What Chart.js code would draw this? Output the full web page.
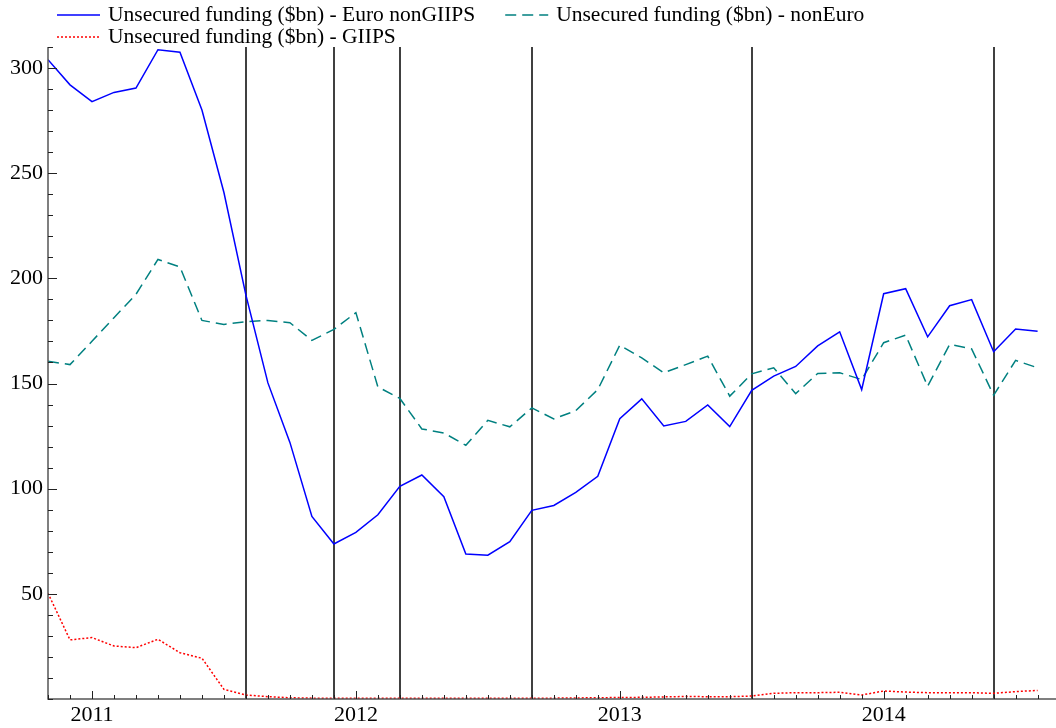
<!DOCTYPE html>
<html>
<head>
<meta charset="utf-8">
<script src="https://cdn.jsdelivr.net/npm/chart.js@4.4.1/dist/chart.umd.min.js"></script>
<style>
  html, body { margin: 0; padding: 0; background: #fff; }
  #wrap { width: 1056px; height: 728px; }
</style>
</head>
<body>
<div id="wrap"><canvas id="myChart" width="1056" height="728"></canvas></div>
<script>
// monthly observations, Nov 2010 .. Aug 2014
const months = [
  '2010-11','2010-12',
  '2011-01','2011-02','2011-03','2011-04','2011-05','2011-06','2011-07','2011-08','2011-09','2011-10','2011-11','2011-12',
  '2012-01','2012-02','2012-03','2012-04','2012-05','2012-06','2012-07','2012-08','2012-09','2012-10','2012-11','2012-12',
  '2013-01','2013-02','2013-03','2013-04','2013-05','2013-06','2013-07','2013-08','2013-09','2013-10','2013-11','2013-12',
  '2014-01','2014-02','2014-03','2014-04','2014-05','2014-06','2014-07','2014-08'
];

const euroNonGiips = [304, 292, 284, 288.4, 290.5, 308.7, 307.5, 280, 240.8, 192, 150.3, 122, 86.8, 73.7, 79.2, 87.6,
  101.1, 106.5, 96.2, 68.9, 68.4, 74.8, 89.7, 92, 98.2, 105.9, 133.3, 142.7, 129.8, 132, 139.8, 129.5, 146.8, 153.5,
  158.1, 167.9, 174.6, 147.1, 192.7, 195.1, 172.2, 187, 189.9, 165.1, 175.9, 174.9];

const nonEuro = [160.6, 159, 170.1, 181.3, 192.4, 209, 205.4, 180, 178.1, 179.4, 180, 178.9, 170.5, 175.7, 183.7, 148.4,
  142.9, 128.4, 126.5, 120.6, 132.5, 129.4, 138.4, 133.2, 137.1, 147.1, 168.2, 162.2, 155.1, 159, 163, 144, 154.6, 157.5,
  145.2, 154.8, 155.1, 151.9, 169.4, 173, 148.7, 168.6, 166.5, 144.4, 161, 157.5];

const giips = [50.3, 28.1, 29.2, 25.2, 24.4, 28.4, 22, 19.4, 4.6, 1.9, 1.1, 0.6, 0.4, 0.4, 0.3, 0.3, 0.3, 0.3, 0.3, 0.3,
  0.3, 0.3, 0.3, 0.4, 0.5, 0.6, 0.7, 0.8, 1.0, 1.2, 1.1, 1.1, 1.4, 2.7, 3, 3, 3.2, 1.9, 3.8, 3.3, 3, 3, 3, 2.7, 3.5, 4.1];

// months marked with a vertical line
const eventMonths = ['2011-08', '2011-12', '2012-03', '2012-09', '2013-07', '2014-06'];

const yLabelTicks = [50, 100, 150, 200, 250, 300];

const serif = "'Liberation Serif', 'Times New Roman', serif";

function toPoints(values) {
  return values.map((v, i) => ({ x: i, y: v }));
}

// black vertical lines, inward tick marks and the legend
const extras = {
  id: 'extras',
  beforeDatasetsDraw(chart) {
    const ctx = chart.ctx;
    const area = chart.chartArea;
    const xs = chart.scales.x;
    ctx.save();
    ctx.strokeStyle = '#000';
    ctx.lineWidth = 1.5;
    eventMonths.forEach(m => {
      const px = Math.round(xs.getPixelForValue(months.indexOf(m)));
      ctx.beginPath();
      ctx.moveTo(px, area.top);
      ctx.lineTo(px, area.bottom);
      ctx.stroke();
    });
    ctx.restore();
  },
  afterDraw(chart) {
    const ctx = chart.ctx;
    const area = chart.chartArea;
    const xs = chart.scales.x;
    const ys = chart.scales.y;
    ctx.save();
    // axis lines
    ctx.strokeStyle = '#555';
    ctx.lineWidth = 1.5;
    ctx.beginPath();
    ctx.moveTo(area.left, area.top);
    ctx.lineTo(area.left, area.bottom);
    ctx.lineTo(1056, area.bottom);
    ctx.stroke();
    // ticks pointing inward
    ctx.strokeStyle = '#222';
    ctx.lineWidth = 1;
    ys.ticks.forEach(t => {
      const py = Math.round(ys.getPixelForValue(t.value)) + 0.5;
      const len = yLabelTicks.includes(t.value) ? 9 : 5;
      ctx.beginPath();
      ctx.moveTo(area.left, py);
      ctx.lineTo(area.left + len, py);
      ctx.stroke();
    });
    months.forEach((m, i) => {
      const px = Math.round(xs.getPixelForValue(i)) + 0.5;
      const len = m.endsWith('-01') ? 8 : 4;
      ctx.beginPath();
      ctx.moveTo(px, area.bottom);
      ctx.lineTo(px, area.bottom - len);
      ctx.stroke();
    });
    // legend
    ctx.font = '21.5px ' + serif;
    ctx.textBaseline = 'middle';
    ctx.textAlign = 'left';
    const ds = chart.data.datasets;
    const rows = [[0, 1], [2]];
    const rowY = [15, 37];
    rows.forEach((row, r) => {
      let x = 57;
      row.forEach(k => {
        const d = ds[k];
        ctx.strokeStyle = d.borderColor;
        ctx.lineWidth = d.borderWidth;
        ctx.setLineDash(d.borderDash || []);
        ctx.beginPath();
        ctx.moveTo(x, rowY[r]);
        ctx.lineTo(x + 43, rowY[r]);
        ctx.stroke();
        ctx.setLineDash([]);
        ctx.fillStyle = '#000';
        ctx.fillText(d.label, x + 51, rowY[r]);
        x += 51 + ctx.measureText(d.label).width + 30;
      });
    });
    ctx.restore();
  }
};

const chart = new Chart(document.getElementById('myChart'), {
  type: 'line',
  data: {
    datasets: [
      {
        label: 'Unsecured funding ($bn) - Euro nonGIIPS',
        data: toPoints(euroNonGiips),
        borderColor: '#0000ff',
        borderWidth: 1.5
      },
      {
        label: 'Unsecured funding ($bn) - nonEuro',
        data: toPoints(nonEuro),
        borderColor: '#008080',
        borderWidth: 1.5,
        borderDash: [11, 6]
      },
      {
        label: 'Unsecured funding ($bn) - GIIPS',
        data: toPoints(giips),
        borderColor: '#ff0000',
        borderWidth: 1.5,
        borderDash: [2, 2]
      }
    ]
  },
  options: {
    responsive: false,
    animation: false,
    events: [],
    layout: { padding: { top: 47, right: 0, left: 0, bottom: 0 } },
    elements: {
      point: { radius: 0 },
      line: { tension: 0, fill: false }
    },
    plugins: {
      legend: { display: false },
      tooltip: { enabled: false }
    },
    scales: {
      x: {
        type: 'linear',
        min: 0,
        max: 45.7,
        grid: { display: false, drawTicks: false },
        border: { display: false },
        afterFit(scale) { scale.height = 29; },
        ticks: {
          stepSize: 1,
          autoSkip: false,
          maxRotation: 0,
          padding: 3,
          color: '#000',
          font: { family: serif, size: 22 },
          callback(v) {
            const m = months[v];
            return m && m.endsWith('-01') ? m.slice(0, 4) : '';
          }
        }
      },
      y: {
        min: 0,
        max: 310,
        grid: { display: false, drawTicks: false },
        border: { display: false },
        afterFit(scale) { scale.width = 48; },
        ticks: {
          stepSize: 10,
          autoSkip: false,
          padding: 5,
          color: '#000',
          font: { family: serif, size: 22 },
          callback(v) {
            return yLabelTicks.includes(v) ? String(v) : '';
          }
        }
      }
    }
  },
  plugins: [extras]
});
</script>
</body>
</html>
